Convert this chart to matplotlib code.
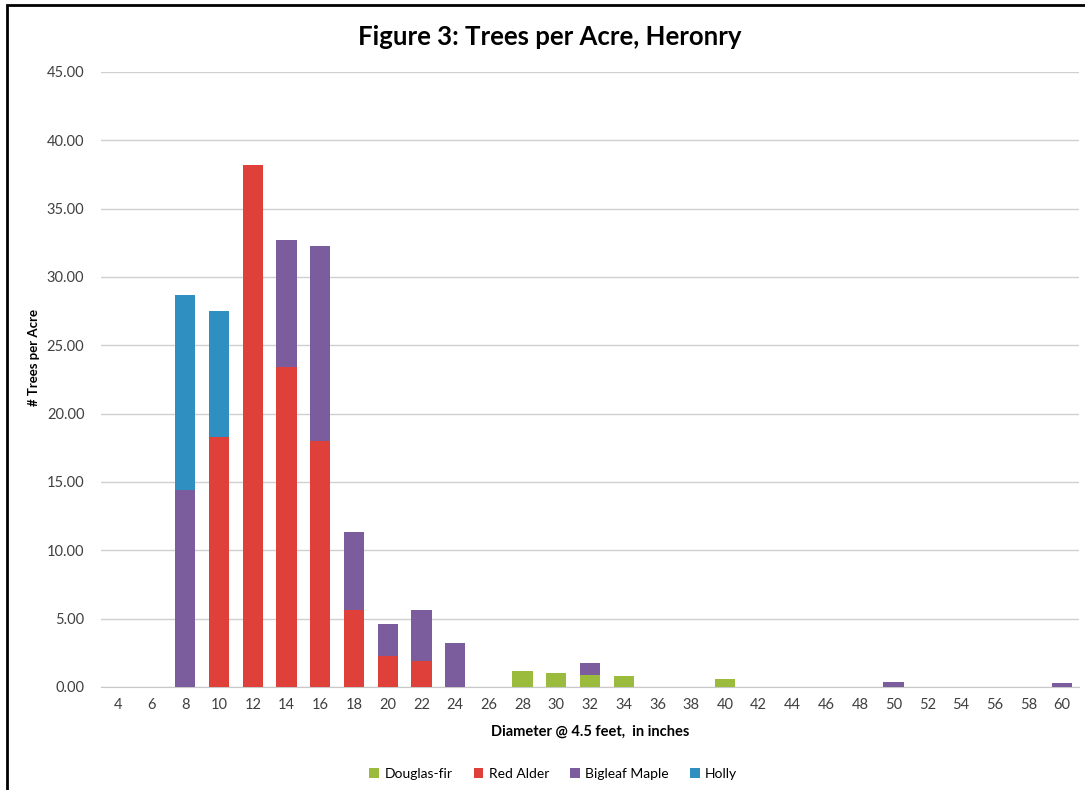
import matplotlib
matplotlib.use("Agg")
import matplotlib.pyplot as plt
import numpy as np
from matplotlib.patches import Rectangle

plt.rcParams['font.family'] = ['Lato', 'DejaVu Sans']

# Diametre (pouces) et arbres par acre
diameters = list(range(4, 62, 2))
douglas_fir = {28: 1.17, 30: 1.05, 32: 0.85, 34: 0.83, 40: 0.56}
red_alder = {10: 18.3, 12: 38.2, 14: 23.4, 16: 18.0, 18: 5.66, 20: 2.3, 22: 1.93}
bigleaf_maple = {8: 14.4, 14: 9.3, 16: 14.3, 18: 5.66, 20: 2.33, 22: 3.73,
                 24: 3.2, 32: 0.93, 50: 0.37, 60: 0.3}
holly = {8: 14.3, 10: 9.2}

series = [
    ("Douglas-fir", douglas_fir, "#9bbb3c"),
    ("Red Alder", red_alder, "#e0403a"),
    ("Bigleaf Maple", bigleaf_maple, "#7b5c9c"),
    ("Holly", holly, "#2e8fc0"),
]

fig = plt.figure(figsize=(10.85, 7.9), dpi=100)
ax = fig.add_axes([0.0931, 0.1304, 0.9014, 0.7785])

x = np.arange(len(diameters))
bottom = np.zeros(len(diameters))
for name, values, color in series:
    h = np.array([values.get(d, 0.0) for d in diameters])
    ax.bar(x, h, width=0.6, bottom=bottom, color=color, label=name, zorder=3)
    bottom += h

ax.set_xlim(-0.5, len(diameters) - 0.5)
ax.set_ylim(0, 45)
ax.set_yticks(np.arange(0, 46, 5))
ax.set_yticklabels([f"{v:.2f}" for v in np.arange(0, 46, 5)])
ax.set_xticks(x)
ax.set_xticklabels([str(d) for d in diameters])
ax.tick_params(axis='both', length=0, colors="#404040", labelsize=10.5)
ax.tick_params(axis='y', pad=12)
ax.tick_params(axis='x', pad=8)
ax.grid(axis='y', color="#d0d0d0", linewidth=1, zorder=0)
for s in ['top', 'right', 'left']:
    ax.spines[s].set_visible(False)
ax.spines['bottom'].set_color("#c8c8c8")

ax.set_ylabel("# Trees per Acre", fontsize=9.5, fontweight='bold')
ax.yaxis.set_label_coords(-0.062, 0.535)
ax.set_xlabel("Diameter @ 4.5 feet,  in inches", fontsize=10.5, fontweight='bold',
              labelpad=9)
fig.text(0.507, 0.953, "Figure 3: Trees per Acre, Heronry", ha='center',
         va='center', fontsize=18.5, fontweight='bold')

handles, labels = ax.get_legend_handles_labels()
fig.legend(handles, labels, loc='center', bbox_to_anchor=(0.51, 0.02),
           ncol=4, frameon=False, fontsize=10, handlelength=0.7,
           handleheight=0.7, columnspacing=1.5, handletextpad=0.4)

# cadre de la figure
fig.patches.append(Rectangle((7 / 1085, -0.01), 1.1, 1 - 5 / 790 + 0.01,
                             transform=fig.transFigure, fill=False,
                             edgecolor="black", linewidth=2))

fig.savefig("out.png", dpi=100)
